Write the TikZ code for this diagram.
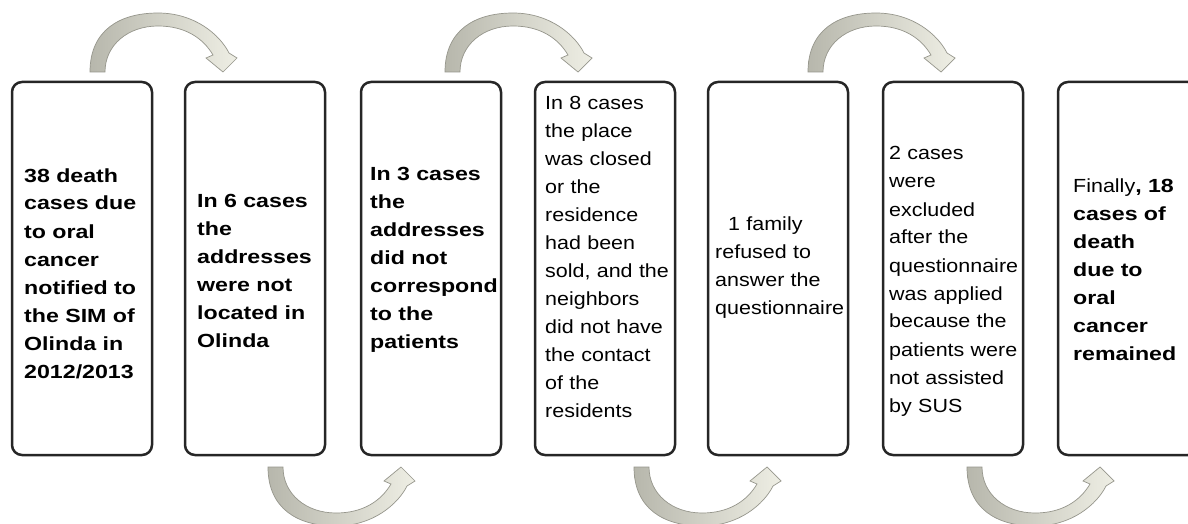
\documentclass[tikz,border=0pt]{standalone}
\usepackage{fontspec}
\setmainfont{Liberation Sans}[FakeStretch=1.13]
\newfontfamily\bfont{Liberation Sans}[FakeStretch=1.22]
\definecolor{boxline}{RGB}{38,38,38}
\definecolor{arrowdark}{RGB}{183,183,172}
\definecolor{arrowlight}{RGB}{238,238,228}
\definecolor{arrowedge}{RGB}{150,150,140}
\tikzset{
  box/.style={draw=boxline, line width=2.5pt, rounded corners=10pt, fill=white,
    minimum width=140pt, minimum height=373pt, inner sep=0pt},
  txt/.style={anchor=base west, inner sep=0pt, text width=165pt, align=left,
    font=\fontsize{19}{28}\selectfont},
  btxt/.style={txt, font=\bfont\bfseries\fontsize{19}{28}\selectfont},
  arrowfill/.style={left color=arrowdark, right color=arrowlight, draw=arrowedge, line width=0.7pt},
  pics/curvearrow/.style={code={
    \path[arrowfill] (0,0) .. controls (0,-42) and (30,-59) .. (68,-59)
      .. controls (105,-59) and (130,-37) .. (139,-19)
      -- (147,-14) -- (133,0) -- (116,-14) -- (123,-17)
      .. controls (113,-34) and (95,-46) .. (68,-46)
      .. controls (38,-46) and (15,-27) .. (15,0) -- cycle;
  }}
}
\begin{document}
\begin{tikzpicture}[x=1pt, y=-1pt]
\clip (0,0) rectangle (1188,524);
\fill[white] (0,0) rectangle (1188,524);
% boxes
\node[box] (b1) at (82,268.5) {};
\node[box] (b2) at (255,268.5) {};
\node[box] (b3) at (431,268.5) {};
\node[box] (b4) at (605,268.5) {};
\node[box] (b5) at (778,268.5) {};
\node[box] (b6) at (953,268.5) {};
\node[box] (b7) at (1128,268.5) {};
% texts
\node[btxt] (t1) at (24,182) {38 death\\cases due\\to oral\\cancer\\notified to\\the SIM of\\Olinda in\\2012/2013};
\node[btxt] (t2) at (197,207) {In 6 cases\\the\\addresses\\were not\\located in\\Olinda};
\node[btxt] (t3) at (370,180) {In 3 cases\\the\\addresses\\did not\\correspond\\to the\\patients};
\node[txt] (t4) at (545,110) {In 8 cases\\the place\\was closed\\or the\\residence\\had been\\sold, and the\\neighbors\\did not have\\the contact\\of the\\residents};
\node[txt] (t5) at (715,230) {\hspace*{13pt}1 family\\refused to\\answer the\\questionnaire};
\node[txt] (t6) at (889,160) {2 cases\\were\\excluded\\after the\\questionnaire\\was applied\\because the\\patients were\\not assisted\\by SUS};
\node[btxt] (t7) at (1073,192) {{\mdseries\fontspec{Liberation Sans}[FakeStretch=1.13]Finally}, 18\\cases of\\death\\due to\\oral\\cancer\\remained};
% curved arrows above
\pic (a12) at (90,72) {curvearrow};
\pic (a34) at (445,72) {curvearrow};
\pic (a56) at (808,72) {curvearrow};
% curved arrows below (mirrored)
\pic[yscale=-1] (a23) at (268,467) {curvearrow};
\pic[yscale=-1] (a45) at (634,467) {curvearrow};
\pic[yscale=-1] (a67) at (967,467) {curvearrow};
\end{tikzpicture}
\end{document}
